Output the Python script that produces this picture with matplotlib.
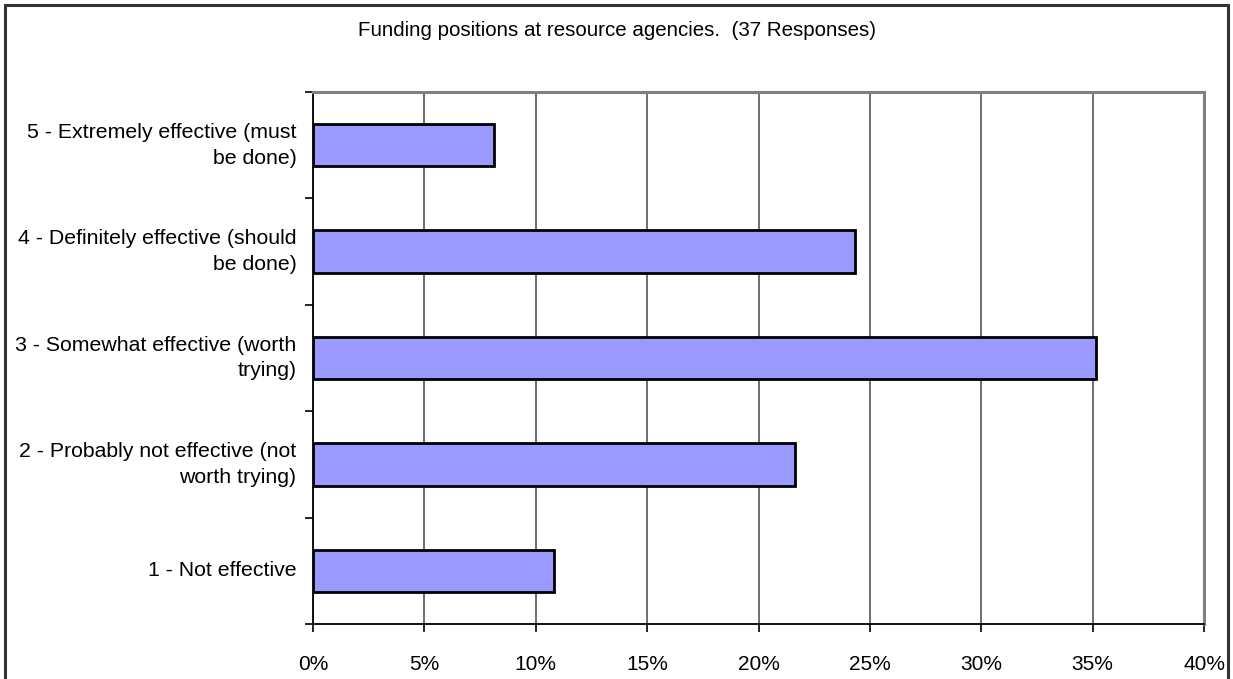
import matplotlib.pyplot as plt
from matplotlib.patches import Rectangle
from matplotlib.ticker import MultipleLocator, PercentFormatter

plt.rcParams['font.family'] = ['Liberation Sans', 'DejaVu Sans']

# survey answers, bottom to top
categories = [
    "1 - Not effective",
    "2 - Probably not effective (not\nworth trying)",
    "3 - Somewhat effective (worth\ntrying)",
    "4 - Definitely effective (should\nbe done)",
    "5 - Extremely effective (must\nbe done)",
]
counts = [4, 8, 13, 9, 3]
total = 37
shares = [100 * c / total for c in counts]

W, H = 1233, 679
fig = plt.figure(figsize=(W / 100, H / 100), dpi=100)

# outer chart frame
fig.patches.append(Rectangle((5 / W, -0.01), (1228 - 5) / W, 1 - 5 / H + 0.01,
                             transform=fig.transFigure, fill=False,
                             edgecolor='#333333', linewidth=2.2))

ax = fig.add_axes([313 / W, 1 - 624 / H, (1204 - 313) / W, (624 - 92) / H])

ypos = range(len(categories))
ax.barh(ypos, shares, height=0.4, color='#9999FF', edgecolor='black',
        linewidth=2.0, zorder=3)

ax.set_xlim(0, 40)
ax.set_ylim(-0.5, len(categories) - 0.5)
ax.xaxis.set_major_locator(MultipleLocator(5))
ax.xaxis.set_major_formatter(PercentFormatter(decimals=0))
ax.grid(axis='x', color='#555555', linewidth=1.2, zorder=0)

# category labels between the boundary ticks
ax.set_yticks([y - 0.5 for y in range(len(categories) + 1)])
ax.set_yticklabels([])
for y, label in zip(ypos, categories):
    ax.text(-0.0185, y, label, transform=ax.get_yaxis_transform(),
            ha='right', va='center', multialignment='right',
            fontsize=15.3, linespacing=1.45)

ax.tick_params(axis='x', direction='out', length=6, width=1.2,
               labelsize=15, pad=16)
ax.tick_params(axis='y', direction='out', length=6, width=1.2)

for side in ('top', 'right'):
    ax.spines[side].set_color('#808080')
    ax.spines[side].set_linewidth(2.2)
for side in ('left', 'bottom'):
    ax.spines[side].set_color('black')
    ax.spines[side].set_linewidth(1.3)

fig.text(617 / W, 1 - 30 / H, "Funding positions at resource agencies.  (37 Responses)",
         ha='center', va='center', fontsize=14.8)

fig.savefig('out.png', dpi=100, facecolor='white')
